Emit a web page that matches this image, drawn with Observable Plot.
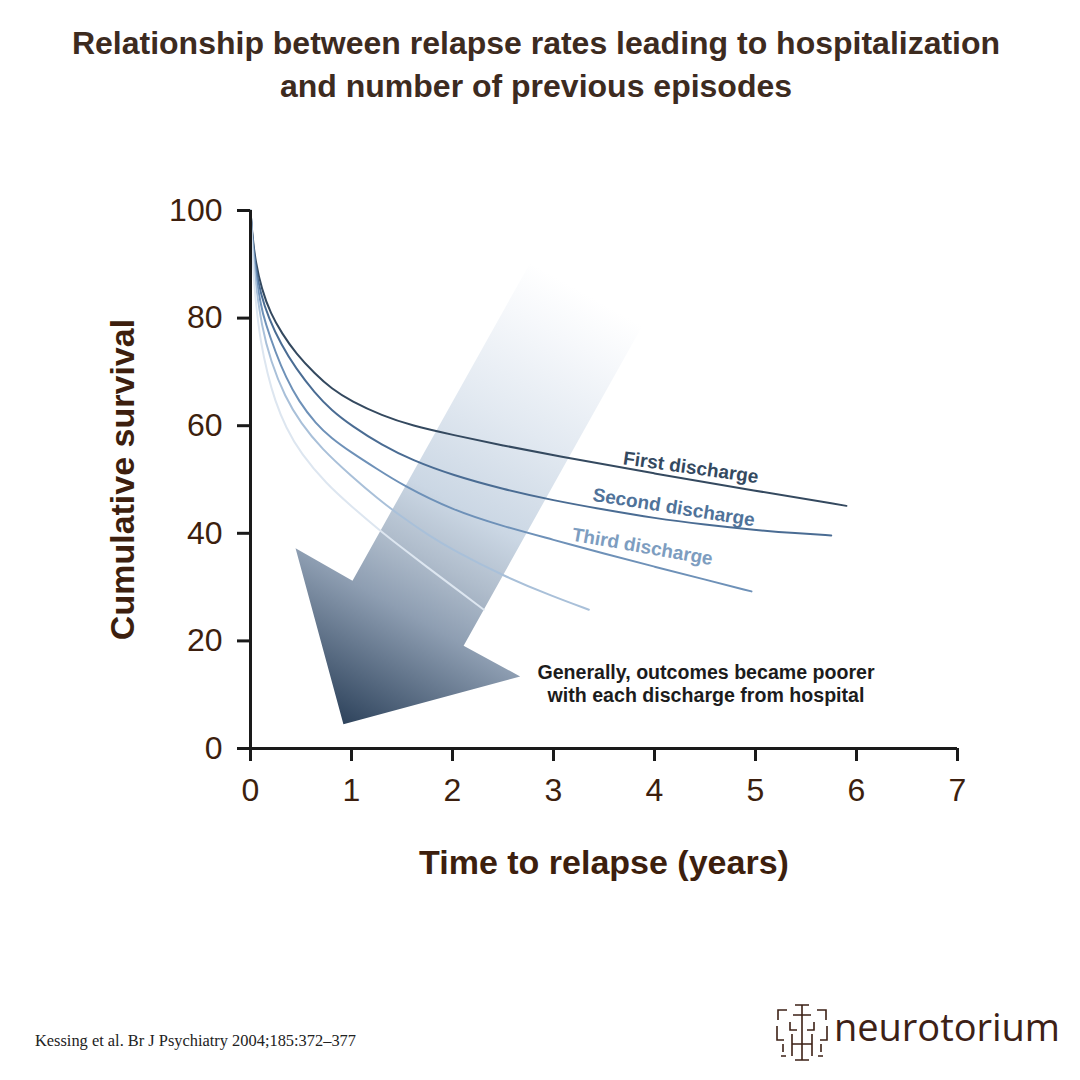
<!DOCTYPE html>
<html><head><meta charset="utf-8">
<script src="https://cdn.jsdelivr.net/npm/d3@7"></script>
<script src="https://cdn.jsdelivr.net/npm/@observablehq/plot@0.6"></script>
<style>
body{margin:0;background:#fff;}
#wrap{position:relative;width:1080px;height:1080px;overflow:hidden;background:#fff;font-family:"Liberation Sans",Arial,sans-serif;}
#chart{position:absolute;left:0;top:0;}
#title{position:absolute;left:0;top:22px;width:1072px;text-align:center;font-weight:bold;font-size:32px;line-height:43px;color:#3d2b1f;}
#caption{position:absolute;left:35px;top:1033px;font-family:"Liberation Serif","Times New Roman",serif;font-size:16.4px;line-height:1;color:#222;white-space:nowrap;}
#logo{position:absolute;left:770px;top:998px;}
</style></head><body>
<div id="wrap">
<div id="chart"></div>
<div id="title">Relationship between relapse rates leading to hospitalization<br>and number of previous episodes</div>
<div id="caption">Kessing et al. Br J Psychiatry 2004;185:372–377</div>
<svg id="logo" width="300" height="70" viewBox="0 0 300 70">
  <g fill="none" stroke="#3d2116" stroke-width="1.6">
    <path d="M25,7 H39 M32,7 V62 M23,17 H41"/>
    <path d="M17,12 H8 V22 M47,12 H56 V22"/>
    <path d="M20,24 V32 H27 M44,24 V32 H37"/>
    <path d="M7,28 V42 H14 M57,28 V42 H50"/>
    <path d="M13,46 V54 M51,46 V54"/>
    <path d="M22,36 V58 M42,36 V58 M22,46 H42"/>
    <path d="M11,58 H16 M48,58 H53 M25,62 H39"/>
  </g>
  <text x="64" y="43" font-family="Open Sans, Lato, sans-serif" font-size="38" fill="#3d2116" textLength="226" lengthAdjust="spacing">neurotorium</text>
</svg>
</div>
<script>
// ---- data ----
const xTicks = [0, 1, 2, 3, 4, 5, 6, 7];
const yTicks = [0, 20, 40, 60, 80, 100];

const seriesNames  = ["First discharge", "Second discharge", "Third discharge", "Fourth discharge", "Fifth discharge"];
const seriesColors = ["#34495f", "#4a6c93", "#6e91b8", "#a9c0d9", "#dde6f0"];

const firstX  = [0, 0.02, 0.05, 0.11, 0.2, 0.31, 0.45, 0.64, 0.8, 1.0, 1.3, 1.6, 2.0, 2.5, 3.0, 4.0, 5.0, 5.9];
const firstY  = [100, 95, 90.5, 85.4, 80.8, 77.2, 73.4, 69.6, 66.9, 64.5, 61.9, 60.0, 58.3, 56.3, 54.5, 51.1, 47.9, 45.1];
const secondX = [0, 0.02, 0.05, 0.1, 0.18, 0.3, 0.45, 0.64, 0.8, 1.0, 1.3, 1.6, 2.0, 2.5, 3.0, 3.5, 4.0, 4.5, 5.0, 5.4, 5.75];
const secondY = [100, 94.5, 89.5, 84.5, 80.0, 75.2, 70.6, 66.0, 62.9, 60.0, 56.4, 53.6, 50.8, 48.2, 46.1, 44.4, 42.8, 41.6, 40.6, 40.0, 39.6];
const thirdX  = [0, 0.02, 0.05, 0.1, 0.145, 0.25, 0.35, 0.475, 0.65, 0.8, 1.0, 1.25, 1.5, 2.0, 2.5, 3.0, 3.5, 4.0, 4.5, 4.96];
const thirdY  = [100, 94, 88.5, 82.5, 79.2, 73.5, 69.0, 64.6, 60.3, 57.7, 55.0, 52.0, 49.0, 44.3, 41.3, 38.8, 36.2, 33.8, 31.4, 29.2];
const fourthX = [0, 0.02, 0.05, 0.11, 0.2, 0.34, 0.5, 0.7, 1.0, 1.25, 1.5, 1.75, 2.0, 2.5, 3.0, 3.35];
const fourthY = [100, 93, 86.5, 78.5, 72.0, 65.4, 60.4, 55.8, 50.6, 46.6, 43.0, 39.8, 36.9, 32.1, 28.2, 25.8];
const fifthX  = [0, 0.02, 0.05, 0.1, 0.17, 0.24, 0.35, 0.5, 0.75, 1.0, 1.25, 1.5, 1.75, 2.0, 2.31];
const fifthY  = [100, 91, 83, 75.5, 69.5, 64.8, 59.6, 54.8, 49.2, 45.0, 41.0, 37.3, 33.7, 30.2, 25.8];

const seriesX = [firstX, secondX, thirdX, fourthX, fifthX];
const seriesY = [firstY, secondY, thirdY, fourthY, fifthY];

// curve labels
const labelText   = ["First discharge", "Second discharge", "Third discharge"];
const labelX      = [4.36, 4.19, 3.88];
const labelY      = [52.2, 44.8, 37.5];
const labelRotate = [8, 9, 10];
const labelColors = ["#34495f", "#4f7299", "#7d9dc0"];

// block arrow outline (data coordinates)
const arrowX = [2.77, 3.88, 2.11, 2.67, 0.92, 0.446, 1.01];
const arrowY = [90.3, 78.6, 19.1, 13.4, 4.5, 37.2, 31.2];
const arrowStart = [3.325, 84.45];
const arrowEnd   = [0.92, 4.5];

const noteText = ["Generally, outcomes became poorer\nwith each discharge from hospital"];
const noteX = [4.51];
const noteY = [12.2];

// ---- build tables ----
const curveData = seriesNames.flatMap((name, i) =>
  seriesX[i].map((x, j) => ({series: name, x, y: seriesY[i][j]})));
const arrowData = arrowX.map((x, i) => ({x, y: arrowY[i]}));

const axisColor = "#1a1a1a";
const textBrown = "#3d1f0e";

const chart = Plot.plot({
  width: 1080,
  height: 1080,
  marginLeft: 250,
  marginRight: 123,
  marginTop: 210,
  marginBottom: 332,
  style: {fontFamily: "Liberation Sans, Arial, sans-serif", background: "transparent", overflow: "visible"},
  x: {domain: [0, 7]},
  y: {domain: [0, 100]},
  color: {domain: seriesNames, range: seriesColors},
  marks: [
    Plot.line(arrowData, {x: "x", y: "y", curve: "linear-closed", fill: "url(#arrowGrad)", stroke: "none"}),
    Plot.line(curveData, {x: "x", y: "y", z: "series", stroke: "series", strokeWidth: 2, curve: "basis"}),
    ...labelText.map((t, i) => Plot.text([t], {
      x: [labelX[i]], y: [labelY[i]], text: d => d, rotate: labelRotate[i],
      fill: labelColors[i], fontSize: 19, fontWeight: "bold"
    })),
    Plot.text(noteText, {x: noteX, y: noteY, text: d => d, fontSize: 19.6, fontWeight: "bold",
      fill: "#1c1c1c", lineHeight: 1.17}),
    Plot.ruleX([0], {stroke: axisColor, strokeWidth: 3}),
    Plot.ruleY([0], {stroke: axisColor, strokeWidth: 3}),
    Plot.axisY({ticks: yTicks, tickSize: 13, tickPadding: 15, fontSize: 32, fill: textBrown,
      stroke: axisColor, strokeWidth: 3, label: null, tickFormat: d => String(d)}),
    Plot.axisX({ticks: xTicks, tickSize: 13, tickPadding: 17, fontSize: 32, fill: textBrown,
      stroke: axisColor, strokeWidth: 3, label: null, tickFormat: d => String(d)}),
    Plot.axisY({ticks: [], tickSize: 0, label: "Cumulative survival", labelAnchor: "center",
      labelArrow: "none", labelOffset: 141, fontSize: 34, fontWeight: "bold", fill: textBrown}),
    Plot.axisX({ticks: [], tickSize: 0, label: "Time to relapse (years)", labelAnchor: "center",
      labelArrow: "none", labelOffset: 125, fontSize: 34, fontWeight: "bold", fill: textBrown})
  ]
});

// gradient for the block arrow, oriented along the arrow axis
const sx = chart.scale("x"), sy = chart.scale("y");
const ns = "http://www.w3.org/2000/svg";
const defs = document.createElementNS(ns, "defs");
const grad = document.createElementNS(ns, "linearGradient");
grad.setAttribute("id", "arrowGrad");
grad.setAttribute("gradientUnits", "userSpaceOnUse");
grad.setAttribute("x1", sx.apply(arrowStart[0]));
grad.setAttribute("y1", sy.apply(arrowStart[1]));
grad.setAttribute("x2", sx.apply(arrowEnd[0]));
grad.setAttribute("y2", sy.apply(arrowEnd[1]));
[[0, "#ffffff"], [0.1, "#f6f8fb"], [0.3, "#e2e9f1"], [0.5, "#cbd7e4"], [0.62, "#b0bdcc"],
 [0.74, "#8e9eb2"], [1, "#2e435c"]].forEach(([o, c]) => {
  const s = document.createElementNS(ns, "stop");
  s.setAttribute("offset", o);
  s.setAttribute("stop-color", c);
  grad.appendChild(s);
});
defs.appendChild(grad);
chart.insertBefore(defs, chart.firstChild);

document.getElementById("chart").appendChild(chart);
</script>
</body></html>
